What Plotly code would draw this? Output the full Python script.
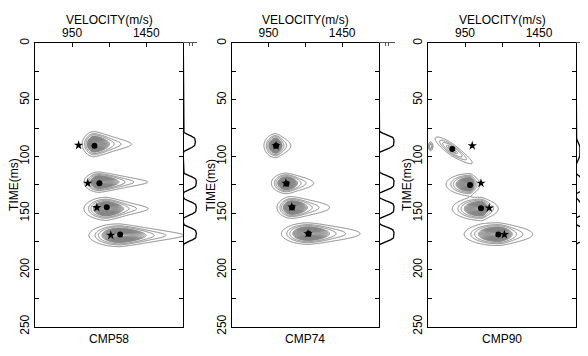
import numpy as np
import plotly.graph_objects as go

# page body has an 8px margin on every side: figure = window minus 16px, placed at (8,8)
OFF = 8
W, H = 588 - 2 * OFF, 356 - 2 * OFF
FONT = "Liberation Sans, Arial, sans-serif"

# ---------------- data ----------------
CMP_NAMES = ["CMP58", "CMP74", "CMP90"]
X_TICKVALS = [950, 1200, 1450]
X_TICKTEXT = ["950", "", "1450"]
Y_TICKVALS = [0, 25, 50, 75, 100, 125, 150, 175, 200, 225, 250]
Y_TICKTEXT = ["0", "", "50", "", "100", "", "150", "", "200", "", "250"]

# picks: black dots and stars (velocity m/s, time ms)
DOT_V = [[1101, 1134, 1184, 1274], [1001, 1072, 1110, 1222], [864, 984, 1058, 1175]]
DOT_T = [[90.4, 123.5, 144.7, 168.8], [90.4, 124.0, 145.0, 168.0], [93.2, 125.0, 145.6, 168.8]]
STAR_V = [[994, 1056, 1117, 1211], [1001, 1068, 1108, 1218], [999, 1058, 1114, 1216]]
STAR_T = [[90.0, 123.5, 145.0, 169.4], [90.4, 123.5, 144.5, 168.0], [90.4, 123.5, 145.3, 168.8]]

# semblance blobs: centre, left/right extent of outer contour, half height, tilt, core strength
BLOB_V0 = [[1101, 1134, 1184, 1274], [1001, 1072, 1110, 1222], [864, 984, 1058, 1175, 718]]
BLOB_T0 = [[89, 122.5, 146, 169.5], [90.4, 123.5, 145, 168], [94, 124.5, 146, 168.5, 91]]
BLOB_LEFT = [[80, 100, 150, 205], [80, 100, 100, 180], [115, 158, 189, 225, 15]]
BLOB_RIGHT = [[250, 325, 280, 430], [100, 185, 255, 350], [135, 67, 117, 232, 15]]
BLOB_HALFT = [[10, 8, 9, 9], [9.5, 8, 8.5, 8.5], [5.5, 8.5, 9, 9, 4]]
BLOB_TILT = [[0, 0, 0, 0], [0, 0, 0, 0], [0.085, 0, 0, 0, 0]]
BLOB_CORE = [[1, 1, 1, 1], [1, 1, 1, 1], [0.15, 1, 1, 1, 0]]
BLOB_TAPER = [0.55, 0.3, 0.2]

# right-hand traces: event times (ms), amplitudes (px), widths (ms)
TRACE_T = [[87, 123, 145.5, 168.5], [87, 123, 145.5, 168.5], [95, 124, 145.5, 168.5]]
TRACE_A = [[12, 13, 13, 13], [15, 15, 15, 15], [4, 12, 12, 12]]
TRACE_W = [[6.5, 6.5, 6.5, 6.5], [7, 7, 7, 7], [9, 6.5, 6.5, 6.5]]

# ---------------- layout geometry (window pixels) ----------------
PANEL_X0 = [35, 231.7, 428]
PANEL_X1 = [183.3, 379, 576]
TRACE_WPX = [14, 16, 12]
TOP, BOT = 39.5, 334


def px(x):
    return (x - OFF) / W


def py(y):
    return 1 - (y - OFF) / H


vgrid = np.arange(700, 1701, 5.0)
tgrid = np.arange(60, 200.01, 0.5)
V, T = np.meshgrid(vgrid, tgrid)


def field(p):
    Z = np.zeros_like(V)
    for v0, t0, le, ri, ht, tl, co in zip(BLOB_V0[p], BLOB_T0[p], BLOB_LEFT[p], BLOB_RIGHT[p],
                                          BLOB_HALFT[p], BLOB_TILT[p], BLOB_CORE[p]):
        dv = V - v0
        dt = T - t0 - tl * dv
        sv = np.where(dv < 0, le, ri) / 1.215
        taper = 1 - BLOB_TAPER[p] * np.clip(dv / ri, 0, 1)
        st = ht / 1.215 * taper
        halo = 0.35 * np.exp(-(dv / sv) ** 2 - (dt / st) ** 2)
        svc = np.where(dv < 0, le * 0.55, ri * 0.33) / 1.215
        stc = st * 0.7
        core = co * np.exp(-(dv / svc) ** 2 - (dt / stc) ** 2)
        Z += halo + core
    return np.round(Z, 3)


fig = go.Figure()
tt = np.arange(0, 250.01, 0.5)

for p in range(3):
    xa = "x" if p == 0 else f"x{p+1}"
    ya = "y" if p == 0 else f"y{p+1}"
    xt = f"x{p+4}"
    Z = field(p)
    for start, end, size in [(0.08, 0.25, 0.085), (0.38, 1.30, 0.05)]:
        fig.add_trace(go.Contour(
            x=vgrid, y=tgrid, z=Z, xaxis=xa, yaxis=ya,
            contours=dict(start=start, end=end, size=size, coloring="none"),
            line=dict(color="#858585", width=1), showscale=False,
            hoverinfo="skip"))
    fig.add_trace(go.Scatter(x=STAR_V[p], y=STAR_T[p], xaxis=xa, yaxis=ya, mode="markers",
                             marker=dict(symbol="star", size=7, color="black"), hoverinfo="skip"))
    fig.add_trace(go.Scatter(x=DOT_V[p], y=DOT_T[p], xaxis=xa, yaxis=ya, mode="markers",
                             marker=dict(symbol="circle", size=6, color="black"), hoverinfo="skip"))
    amp = np.zeros_like(tt)
    for t0, a, w in zip(TRACE_T[p], TRACE_A[p], TRACE_W[p]):
        amp += a * np.exp(-((tt - t0) / w) ** 4)
    fig.add_trace(go.Scatter(x=amp, y=tt, xaxis=xt, yaxis=ya, mode="lines",
                             line=dict(color="black", width=1.3), hoverinfo="skip"))

    x0, x1 = PANEL_X0[p], PANEL_X1[p]
    xkey = "xaxis" if p == 0 else f"xaxis{p+1}"
    ykey = "yaxis" if p == 0 else f"yaxis{p+1}"
    common = dict(showgrid=False, zeroline=False, showline=True, linecolor="black", linewidth=1,
                  ticks="inside", ticklen=4, tickcolor="black", tickwidth=1,
                  tickfont=dict(family=FONT, size=12, color="black"))
    fig.layout[xkey] = dict(domain=[px(x0), px(x1)], range=[700, 1700], side="top", anchor=ya,
                            tickmode="array", tickvals=X_TICKVALS, ticktext=X_TICKTEXT,
                            mirror=True, **common)
    fig.layout[ykey] = dict(domain=[py(BOT), py(TOP)], range=[250, 0], anchor=xa,
                            tickmode="array", tickvals=Y_TICKVALS, ticktext=Y_TICKTEXT,
                            tickangle=-90, mirror="ticks", **common)
    tw = TRACE_WPX[p]
    xr = min(588.0 - OFF, x1 + tw)
    fig.layout[f"xaxis{p+4}"] = dict(domain=[px(x1), px(xr)], range=[0, xr - x1], side="top",
                                      anchor=ya, showgrid=False, zeroline=False, showline=True,
                                      linecolor="#555", linewidth=1, ticks="inside", ticklen=3,
                                      tickcolor="#555", tickmode="array", tickvals=[6, 9],
                                      showticklabels=False)
    cx = (x0 + x1) / 2
    fig.add_annotation(x=px(cx), y=py(15.5), xref="paper", yref="paper", text="VELOCITY(m/s)",
                       showarrow=False, xanchor="center", yanchor="middle", borderpad=0,
                       font=dict(family=FONT, size=12, color="black"))
    fig.add_annotation(x=px(cx), y=py(347), xref="paper", yref="paper", text=CMP_NAMES[p],
                       showarrow=False, xanchor="center", yanchor="middle",
                       font=dict(family=FONT, size=12, color="black"))
    fig.add_annotation(x=px(x0 - 21), y=py((TOP + BOT) / 2), xref="paper", yref="paper",
                       text="TIME(ms)", textangle=-90, showarrow=False,
                       xanchor="center", yanchor="middle",
                       font=dict(family=FONT, size=12, color="black"))

fig.update_layout(width=W, height=H, margin=dict(l=0, r=0, t=0, b=0),
                  paper_bgcolor="white", plot_bgcolor="white", showlegend=False)
fig.write_html("out.html")
